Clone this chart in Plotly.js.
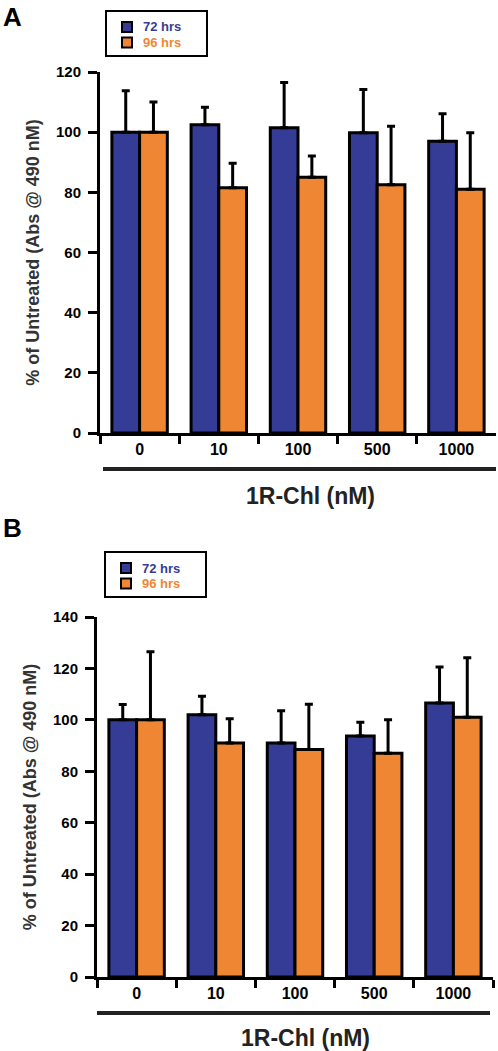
<!DOCTYPE html>
<html>
<head>
<meta charset="utf-8">
<script src="https://cdn.plot.ly/plotly-3.0.1.min.js"></script>
<style>
  html, body { margin: 0; padding: 0; background: #fff; }
  #chart { width: 498px; height: 1051px; }
</style>
</head>
<body>
<div id="chart"></div>
<script>
// ---- data ----
const categories = ['0', '10', '100', '500', '1000'];

// Panel A
const a72 = [100, 102.5, 101.5, 99.8, 97];
const a72err = [13.8, 5.8, 15, 14.4, 9.1];
const a96 = [100, 81.5, 85, 82.5, 81];
const a96err = [10, 8.2, 7.1, 19.5, 18.8];

// Panel B
const b72 = [100, 102, 91, 93.7, 106.6];
const b72err = [6, 7.2, 12.5, 5.4, 14];
const b96 = [100, 91, 88.5, 87, 101];
const b96err = [26.5, 9.4, 17.6, 13, 23.2];

const noLowerErr = [0, 0, 0, 0, 0];

const seriesNames = ['72 hrs', '96 hrs'];
const xTitle = '1R-Chl (nM)';
const yTitle = '% of Untreated (Abs @ 490 nM)';
const panelLabels = ['A', 'B'];

// ---- styles ----
const BLUE = '#353c96';
const ORANGE = '#ef8633';
const seriesColors = [BLUE, ORANGE];
const FONT = 'Liberation Sans, Arial, sans-serif';

function barTrace(y, err, color, name, xa, ya) {
  return {
    type: 'bar',
    x: categories,
    y: y,
    name: name,
    xaxis: xa, yaxis: ya,
    showlegend: false,
    marker: { color: color, line: { color: '#000', width: 3 } },
    error_y: {
      type: 'data', symmetric: false, array: err, arrayminus: noLowerErr,
      color: '#000', thickness: 3, width: 4
    },
    hoverinfo: 'skip'
  };
}

const traces = [
  barTrace(a72, a72err, BLUE, seriesNames[0], 'x', 'y'),
  barTrace(a96, a96err, ORANGE, seriesNames[1], 'x', 'y'),
  barTrace(b72, b72err, BLUE, seriesNames[0], 'x2', 'y2'),
  barTrace(b96, b96err, ORANGE, seriesNames[1], 'x2', 'y2')
];

const H = 1051, W = 498;
function py(pix) { return (H - pix) / H; }
function px(pix) { return pix / W; }

const yTickFont = { family: FONT, size: 15, color: '#000', weight: 'bold' };
const xTickFont = { family: FONT, size: 16, color: '#000', weight: 'bold' };

function xAxis(domain, anchor) {
  return {
    domain: domain, anchor: anchor,
    type: 'category',
    showline: true, linecolor: '#000', linewidth: 3,
    ticks: 'outside', tickson: 'boundaries', ticklen: 8, tickwidth: 3, tickcolor: '#000',
    showgrid: false, zeroline: false,
    tickfont: xTickFont,
    range: [-0.5, 4.5],
    fixedrange: true
  };
}
function yAxis(domain, anchor, range) {
  return {
    domain: domain, anchor: anchor,
    range: range, dtick: 20, tick0: 0,
    showline: true, linecolor: '#000', linewidth: 3,
    ticks: 'outside', ticklen: 9, tickwidth: 3, tickcolor: '#000',
    ticklabelstandoff: 4,
    showgrid: false, zeroline: false,
    tickfont: yTickFont,
    title: { text: yTitle, font: { family: FONT, size: 18, color: '#333', weight: 'bold' }, standoff: 12 },
    fixedrange: true
  };
}

// manual legend boxes (paper pixel positions)
function legendParts(left, top) {
  const shapes = [
    { type: 'rect', xref: 'paper', yref: 'paper', x0: px(left), x1: px(left + 101), y0: py(top), y1: py(top + 45),
      line: { color: '#000', width: 2 }, fillcolor: 'rgba(0,0,0,0)' }
  ];
  const anns = [];
  seriesNames.forEach(function (nm, i) {
    const cy = top + 16 + i * 15.5;
    shapes.push({ type: 'rect', xref: 'paper', yref: 'paper',
      x0: px(left + 16), x1: px(left + 26), y0: py(cy - 5), y1: py(cy + 5),
      line: { color: '#000', width: 2 }, fillcolor: seriesColors[i] });
    anns.push({ text: nm, xref: 'paper', yref: 'paper', x: px(left + 36), y: py(cy), showarrow: false,
      xanchor: 'left', yanchor: 'middle', borderpad: 0,
      font: { family: FONT, size: 13, color: seriesColors[i], weight: 'bold' } });
  });
  return { shapes: shapes, anns: anns };
}
const legA = legendParts(106, 11);
const legB = legendParts(105, 552);

const layout = {
  width: W, height: H,
  margin: { l: 0, r: 0, t: 0, b: 0 },
  paper_bgcolor: '#fff', plot_bgcolor: '#fff',
  barmode: 'group', bargap: 0.3, bargroupgap: 0,
  showlegend: false,
  xaxis: xAxis([px(100), px(496)], 'y'),
  yaxis: yAxis([py(433), py(72)], 'x', [0, 120]),
  xaxis2: xAxis([px(97), px(493)], 'y2'),
  yaxis2: yAxis([py(977), py(617)], 'x2', [0, 140]),
  shapes: [
    { type: 'line', xref: 'paper', yref: 'paper', x0: px(103), x1: px(496), y0: py(469), y1: py(469), line: { color: '#222', width: 4 } },
    { type: 'line', xref: 'paper', yref: 'paper', x0: px(97), x1: px(490), y0: py(1013), y1: py(1013), line: { color: '#222', width: 4 } }
  ].concat(legA.shapes, legB.shapes),
  annotations: [
    { text: xTitle, xref: 'paper', yref: 'paper', x: px(310), y: py(496), showarrow: false, xanchor: 'center', yanchor: 'middle',
      font: { family: FONT, size: 23, color: '#222', weight: 'bold' } },
    { text: xTitle, xref: 'paper', yref: 'paper', x: px(305), y: py(1038), showarrow: false, xanchor: 'center', yanchor: 'middle',
      font: { family: FONT, size: 23, color: '#222', weight: 'bold' } },
    { text: panelLabels[0], xref: 'paper', yref: 'paper', x: px(2), y: py(0.5), showarrow: false, xanchor: 'left', yanchor: 'top', borderpad: 0,
      font: { family: FONT, size: 26, color: '#000', weight: 'bold' } },
    { text: panelLabels[1], xref: 'paper', yref: 'paper', x: px(2), y: py(512), showarrow: false, xanchor: 'left', yanchor: 'top', borderpad: 0,
      font: { family: FONT, size: 26, color: '#000', weight: 'bold' } }
  ].concat(legA.anns, legB.anns)
};

Plotly.newPlot('chart', traces, layout, { staticPlot: true, displayModeBar: false });
</script>
</body>
</html>
